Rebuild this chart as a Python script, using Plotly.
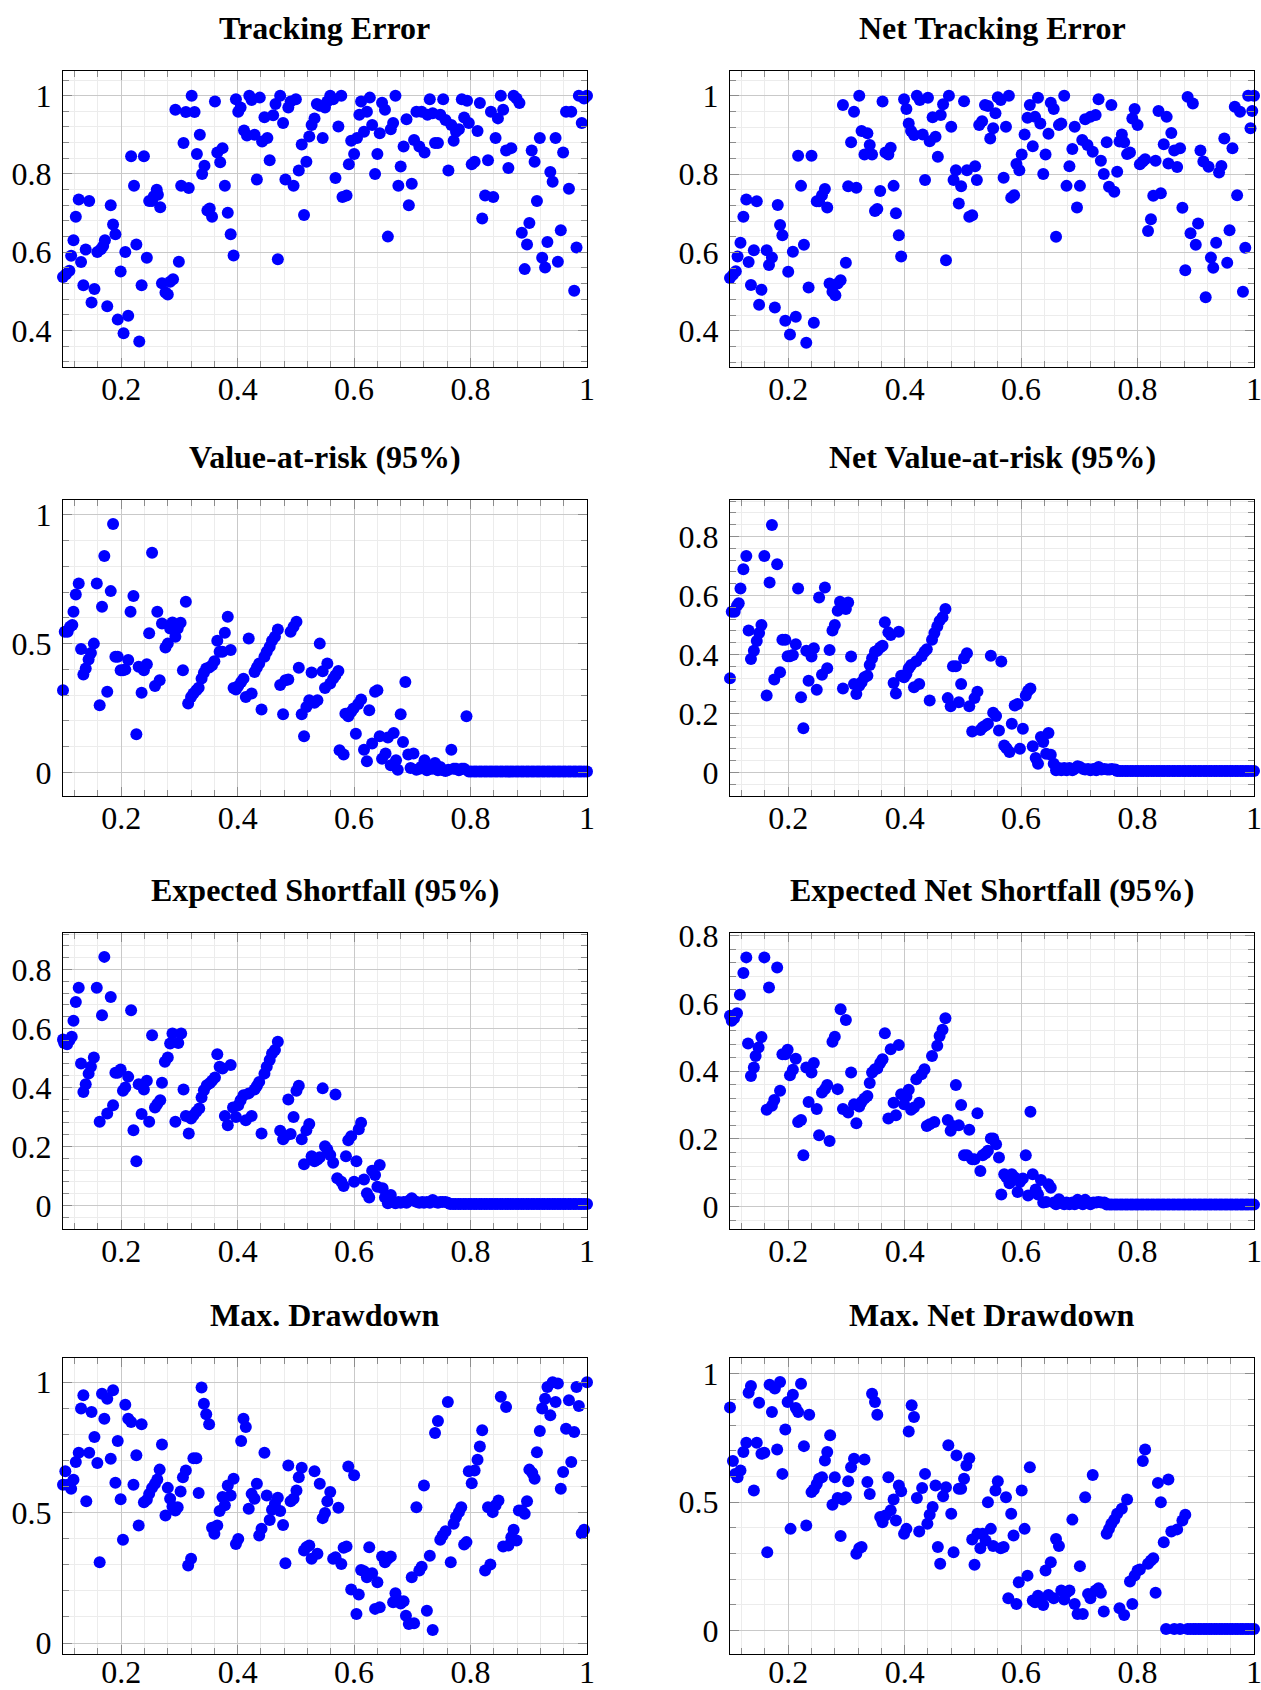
import plotly.graph_objects as go

# ---------------- data (x, y) ----------------
TRACKING_ERROR = [
(0.100,0.537),(0.105,0.544),(0.111,0.553),(0.114,0.591),(0.118,0.631),(0.122,0.691),(0.127,0.735),(0.131,0.575),(0.135,0.516),(0.139,0.607),
(0.145,0.731),(0.149,0.472),(0.154,0.506),(0.159,0.601),(0.165,0.608),(0.169,0.616),(0.172,0.631),(0.176,0.462),(0.182,0.720),(0.186,0.671),
(0.190,0.646),(0.194,0.428),(0.199,0.551),(0.204,0.393),(0.207,0.601),(0.212,0.438),(0.217,0.845),(0.222,0.770),(0.226,0.620),(0.231,0.372),
(0.235,0.516),(0.239,0.845),(0.244,0.586),(0.248,0.731),(0.253,0.731),(0.256,0.743),(0.261,0.760),(0.263,0.747),(0.267,0.715),(0.270,0.521),
(0.276,0.497),(0.280,0.492),(0.284,0.525),(0.289,0.531),(0.293,0.964),(0.299,0.576),(0.303,0.770),(0.307,0.879),(0.311,0.958),(0.316,0.764),
(0.321,1.000),(0.326,0.958),(0.330,0.851),(0.335,0.900),(0.339,0.800),(0.343,0.821),(0.348,0.707),(0.352,0.712),(0.356,0.691),(0.361,0.985),
(0.365,0.855),(0.370,0.830),(0.374,0.866),(0.378,0.770),(0.383,0.701),(0.388,0.646),(0.393,0.592),(0.397,0.991),(0.401,0.959),(0.405,0.970),
(0.411,0.911),(0.416,0.898),(0.420,1.000),(0.424,0.989),(0.429,0.900),(0.433,0.786),(0.438,0.995),(0.442,0.883),(0.446,0.945),(0.451,0.892),
(0.455,0.835),(0.461,0.950),(0.465,0.979),(0.469,0.582),(0.473,1.000),(0.478,0.930),(0.482,0.786),(0.487,0.970),(0.491,0.985),(0.496,0.770),
(0.500,0.991),(0.505,0.809),(0.510,0.875),(0.514,0.695),(0.518,0.831),(0.523,0.896),(0.527,0.925),(0.532,0.942),(0.536,0.979),(0.541,0.974),
(0.546,0.892),(0.550,0.970),(0.554,0.985),(0.559,1.000),(0.564,0.991),(0.568,0.790),(0.573,0.921),(0.578,1.000),(0.580,0.741),(0.587,0.745),
(0.591,0.825),(0.595,0.885),(0.600,0.851),(0.605,0.892),(0.609,0.951),(0.612,0.985),(0.617,0.908),(0.622,0.959),(0.627,0.995),(0.631,0.925),
(0.636,0.800),(0.640,0.851),(0.644,0.904),(0.648,0.982),(0.653,0.964),(0.658,0.640),(0.663,0.914),(0.667,0.930),(0.671,1.000),(0.676,0.770),
(0.680,0.819),(0.685,0.870),(0.690,0.940),(0.694,0.720),(0.699,0.775),(0.703,0.887),(0.707,0.959),(0.712,0.870),(0.716,0.959),(0.721,0.855),
(0.726,0.951),(0.730,0.991),(0.735,0.955),(0.739,0.879),(0.744,0.879),(0.748,0.951),(0.753,0.991),(0.757,0.938),(0.762,0.809),(0.767,0.925),
(0.771,0.885),(0.775,0.908),(0.780,0.914),(0.785,0.991),(0.789,0.944),(0.794,0.987),(0.797,0.930),(0.802,0.825),(0.807,0.831),(0.812,0.910),
(0.816,0.981),(0.820,0.686),(0.825,0.745),(0.830,0.835),(0.835,0.959),(0.839,0.741),(0.843,0.892),(0.847,0.942),(0.852,1.000),(0.856,0.964),
(0.861,0.860),(0.865,0.815),(0.870,0.866),(0.874,1.000),(0.879,0.993),(0.884,0.981),(0.888,0.650),(0.893,0.557),(0.897,0.620),(0.901,0.675),
(0.905,0.860),(0.910,0.831),(0.914,0.731),(0.919,0.892),(0.923,0.586),(0.928,0.561),(0.932,0.626),(0.937,0.805),(0.941,0.780),(0.946,0.892),
(0.950,0.576),(0.955,0.656),(0.959,0.855),(0.964,0.959),(0.969,0.762),(0.973,0.959),(0.978,0.502),(0.982,0.612),(0.986,1.000),(0.991,0.930),
(0.995,0.993),(1.000,1.000)]

NET_TRACKING_ERROR = [
(0.100,0.535),(0.105,0.543),(0.110,0.552),(0.113,0.590),(0.118,0.625),(0.123,0.691),(0.128,0.735),(0.132,0.576),(0.136,0.517),(0.141,0.606),
(0.146,0.731),(0.150,0.467),(0.154,0.505),(0.163,0.606),(0.167,0.568),(0.172,0.587),(0.177,0.460),(0.182,0.721),(0.186,0.670),(0.190,0.644),
(0.195,0.426),(0.200,0.551),(0.203,0.391),(0.208,0.602),(0.213,0.436),(0.217,0.847),(0.222,0.770),(0.227,0.620),(0.231,0.370),(0.235,0.511),
(0.240,0.847),(0.244,0.421),(0.249,0.731),(0.253,0.731),(0.258,0.746),(0.263,0.762),(0.267,0.715),(0.271,0.521),(0.276,0.500),(0.281,0.491),
(0.285,0.521),(0.290,0.529),(0.294,0.976),(0.299,0.574),(0.303,0.769),(0.308,0.881),(0.313,0.959),(0.317,0.765),(0.322,1.000),(0.326,0.910),
(0.331,0.850),(0.336,0.904),(0.340,0.874),(0.344,0.850),(0.349,0.706),(0.353,0.711),(0.358,0.757),(0.362,0.985),(0.367,0.855),(0.372,0.850),
(0.376,0.867),(0.381,0.770),(0.385,0.700),(0.390,0.644),(0.394,0.590),(0.399,0.991),(0.403,0.966),(0.407,0.929),(0.411,0.910),(0.416,0.900),
(0.421,1.000),(0.426,0.989),(0.431,0.901),(0.435,0.785),(0.440,0.995),(0.443,0.884),(0.448,0.945),(0.453,0.895),(0.457,0.844),(0.462,0.951),
(0.466,0.978),(0.471,0.580),(0.476,1.000),(0.480,0.921),(0.484,0.785),(0.488,0.810),(0.493,0.725),(0.497,0.769),(0.502,0.986),(0.507,0.810),
(0.511,0.691),(0.516,0.695),(0.521,0.820),(0.524,0.785),(0.528,0.925),(0.533,0.935),(0.538,0.976),(0.543,0.974),(0.547,0.891),(0.552,0.917),
(0.556,0.955),(0.560,0.996),(0.565,0.989),(0.570,0.791),(0.574,0.921),(0.579,1.000),(0.583,0.740),(0.588,0.746),(0.592,0.826),(0.597,0.810),
(0.601,0.850),(0.606,0.901),(0.611,0.944),(0.615,0.976),(0.620,0.871),(0.624,0.946),(0.629,0.995),(0.633,0.929),(0.638,0.800),(0.642,0.850),
(0.647,0.903),(0.651,0.982),(0.656,0.966),(0.660,0.640),(0.665,0.925),(0.669,0.929),(0.674,1.000),(0.678,0.770),(0.683,0.820),(0.688,0.864),
(0.692,0.921),(0.696,0.715),(0.701,0.770),(0.705,0.887),(0.710,0.940),(0.714,0.874),(0.719,0.946),(0.723,0.857),(0.728,0.951),(0.733,0.991),
(0.737,0.834),(0.742,0.800),(0.747,0.881),(0.751,0.768),(0.755,0.976),(0.760,0.755),(0.765,0.806),(0.769,0.883),(0.773,0.901),(0.777,0.881),
(0.782,0.851),(0.787,0.855),(0.791,0.942),(0.795,0.966),(0.800,0.925),(0.804,0.825),(0.809,0.832),(0.813,0.838),(0.818,0.655),(0.823,0.685),
(0.827,0.745),(0.831,0.834),(0.836,0.961),(0.840,0.751),(0.845,0.876),(0.850,0.946),(0.853,0.827),(0.858,0.905),(0.863,0.860),(0.868,0.818),
(0.873,0.866),(0.877,0.714),(0.882,0.555),(0.886,0.997),(0.891,0.649),(0.895,0.980),(0.900,0.620),(0.904,0.674),(0.908,0.860),(0.913,0.832),
(0.917,0.486),(0.922,0.819),(0.926,0.587),(0.930,0.561),(0.935,0.625),(0.940,0.804),(0.944,0.821),(0.949,0.891),(0.954,0.574),(0.958,0.657),
(0.963,0.866),(0.967,0.972),(0.971,0.746),(0.976,0.959),(0.981,0.500),(0.985,0.612),(0.990,1.000),(0.994,0.917),(0.997,0.961),(1.000,1.000)]

VALUE_AT_RISK = [
(0.100,0.319),(0.103,0.546),(0.108,0.546),(0.112,0.566),(0.116,0.572),(0.118,0.624),(0.122,0.691),(0.127,0.734),(0.131,0.479),(0.135,0.380),
(0.139,0.403),(0.144,0.438),(0.148,0.464),(0.153,0.500),(0.158,0.734),(0.163,0.261),(0.167,0.643),(0.171,0.840),(0.176,0.313),(0.182,0.704),
(0.186,0.965),(0.190,0.449),(0.194,0.449),(0.199,0.397),(0.203,0.397),(0.207,0.399),(0.212,0.436),(0.216,0.624),(0.221,0.685),(0.226,0.148),
(0.230,0.410),(0.235,0.309),(0.239,0.397),(0.244,0.420),(0.248,0.540),(0.253,0.853),(0.258,0.335),(0.262,0.624),(0.266,0.358),(0.270,0.578),
(0.276,0.485),(0.280,0.500),(0.284,0.559),(0.288,0.582),(0.293,0.527),(0.297,0.559),(0.302,0.581),(0.306,0.397),(0.311,0.663),(0.315,0.267),
(0.320,0.293),(0.324,0.306),(0.329,0.319),(0.333,0.329),(0.338,0.364),(0.342,0.387),(0.346,0.403),(0.351,0.407),(0.356,0.416),(0.360,0.432),
(0.365,0.511),(0.369,0.468),(0.374,0.468),(0.378,0.542),(0.383,0.604),(0.388,0.475),(0.393,0.328),(0.397,0.322),(0.401,0.335),(0.406,0.351),
(0.410,0.364),(0.414,0.293),(0.419,0.520),(0.424,0.306),(0.429,0.390),(0.433,0.407),(0.437,0.423),(0.441,0.244),(0.446,0.449),(0.450,0.468),
(0.455,0.488),(0.459,0.511),(0.464,0.527),(0.469,0.555),(0.473,0.339),(0.478,0.226),(0.482,0.358),(0.487,0.361),(0.491,0.546),(0.496,0.566),
(0.501,0.585),(0.505,0.406),(0.510,0.226),(0.514,0.140),(0.518,0.254),(0.523,0.280),(0.527,0.388),(0.532,0.270),(0.537,0.280),(0.541,0.500),
(0.546,0.393),(0.550,0.328),(0.554,0.423),(0.559,0.345),(0.564,0.364),(0.568,0.377),(0.573,0.394),(0.575,0.086),(0.582,0.069),(0.585,0.228),
(0.590,0.218),(0.595,0.235),(0.599,0.248),(0.603,0.150),(0.607,0.265),(0.612,0.283),(0.617,0.088),(0.622,0.043),(0.626,0.241),(0.631,0.112),
(0.636,0.313),(0.640,0.319),(0.644,0.140),(0.648,0.053),(0.654,0.073),(0.658,0.135),(0.663,0.027),(0.668,0.153),(0.672,0.047),(0.675,0.010),
(0.680,0.226),(0.684,0.118),(0.688,0.351),(0.693,0.069),(0.697,0.017),(0.702,0.073),(0.707,0.010),(0.712,0.014),(0.716,0.023),(0.721,0.047),
(0.725,0.008),(0.729,0.014),(0.734,0.014),(0.739,0.036),(0.744,0.008),(0.748,0.021),(0.753,0.008),(0.757,0.005),(0.762,0.010),(0.767,0.088),
(0.771,0.014),(0.775,0.014),(0.780,0.008),(0.785,0.014),(0.789,0.014),(0.793,0.218),
(0.797,0.003),(0.801,0.003),(0.806,0.003),(0.810,0.003),(0.815,0.003),(0.819,0.003),(0.824,0.003),(0.828,0.003),(0.833,0.003),(0.837,0.003),
(0.842,0.003),(0.846,0.003),(0.851,0.003),(0.855,0.003),(0.860,0.003),(0.864,0.003),(0.869,0.003),(0.873,0.003),(0.878,0.003),(0.882,0.003),
(0.887,0.003),(0.891,0.003),(0.896,0.003),(0.900,0.003),(0.905,0.003),(0.909,0.003),(0.914,0.003),(0.918,0.003),(0.923,0.003),(0.927,0.003),
(0.932,0.003),(0.936,0.003),(0.941,0.003),(0.945,0.003),(0.950,0.003),(0.954,0.003),(0.959,0.003),(0.963,0.003),(0.968,0.003),(0.972,0.003),
(0.977,0.003),(0.981,0.003),(0.986,0.003),(0.990,0.003),(0.995,0.003),(1.000,0.003)]

NET_VALUE_AT_RISK = [
(0.100,0.319),(0.103,0.545),(0.108,0.545),(0.112,0.565),(0.115,0.574),(0.118,0.624),(0.123,0.689),(0.128,0.734),(0.132,0.481),(0.136,0.385),
(0.141,0.413),(0.146,0.446),(0.150,0.473),(0.154,0.500),(0.159,0.734),(0.163,0.261),(0.168,0.644),(0.172,0.839),(0.176,0.315),(0.181,0.706),
(0.186,0.340),(0.190,0.450),(0.195,0.450),(0.199,0.394),(0.203,0.394),(0.208,0.398),(0.213,0.435),(0.217,0.624),(0.222,0.255),(0.226,0.150),
(0.231,0.413),(0.235,0.311),(0.240,0.393),(0.244,0.421),(0.249,0.280),(0.253,0.593),(0.258,0.331),(0.263,0.627),(0.267,0.353),(0.271,0.415),
(0.276,0.481),(0.280,0.500),(0.285,0.548),(0.289,0.579),(0.294,0.285),(0.299,0.554),(0.303,0.576),(0.308,0.393),(0.313,0.300),(0.317,0.266),
(0.322,0.294),(0.326,0.306),(0.331,0.323),(0.336,0.328),(0.340,0.364),(0.344,0.387),(0.349,0.409),(0.353,0.413),(0.358,0.424),(0.362,0.430),
(0.366,0.509),(0.372,0.475),(0.376,0.466),(0.381,0.303),(0.385,0.268),(0.390,0.477),(0.394,0.328),(0.399,0.323),(0.403,0.334),(0.407,0.353),
(0.411,0.364),(0.416,0.289),(0.420,0.377),(0.425,0.300),(0.429,0.394),(0.434,0.409),(0.438,0.418),(0.443,0.244),(0.447,0.450),(0.451,0.473),
(0.456,0.495),(0.460,0.514),(0.465,0.526),(0.470,0.554),(0.474,0.252),(0.479,0.224),(0.483,0.360),(0.488,0.360),(0.493,0.238),(0.497,0.300),
(0.502,0.387),(0.507,0.404),(0.511,0.224),(0.516,0.139),(0.520,0.252),(0.525,0.274),(0.530,0.144),(0.534,0.153),(0.539,0.159),(0.543,0.165),
(0.548,0.396),(0.552,0.202),(0.557,0.191),(0.562,0.142),(0.566,0.376),(0.571,0.091),(0.575,0.082),(0.580,0.069),(0.584,0.165),(0.589,0.227),
(0.594,0.232),(0.598,0.080),(0.603,0.148),(0.608,0.261),(0.612,0.277),(0.616,0.285),(0.620,0.089),(0.625,0.049),(0.629,0.029),(0.634,0.120),
(0.638,0.103),(0.643,0.063),(0.647,0.134),(0.651,0.060),(0.656,0.029),(0.660,0.007),(0.665,0.015),(0.669,0.007),(0.674,0.015),(0.678,0.007),
(0.683,0.015),(0.688,0.007),(0.692,0.012),(0.697,0.021),(0.701,0.018),(0.706,0.012),(0.710,0.010),(0.715,0.012),(0.719,0.007),(0.724,0.012),
(0.729,0.007),(0.733,0.018),(0.738,0.010),(0.743,0.012),(0.748,0.010),(0.752,0.010),(0.756,0.012),(0.762,0.010),
(0.765,0.005),(0.770,0.005),(0.774,0.005),(0.779,0.005),(0.783,0.005),(0.788,0.005),(0.792,0.005),(0.797,0.005),(0.801,0.005),(0.806,0.005),
(0.810,0.005),(0.815,0.005),(0.819,0.005),(0.824,0.005),(0.828,0.005),(0.833,0.005),(0.837,0.005),(0.842,0.005),(0.846,0.005),(0.851,0.005),
(0.855,0.005),(0.860,0.005),(0.864,0.005),(0.869,0.005),(0.873,0.005),(0.878,0.005),(0.882,0.005),(0.887,0.005),(0.891,0.005),(0.896,0.005),
(0.900,0.005),(0.905,0.005),(0.909,0.005),(0.914,0.005),(0.918,0.005),(0.923,0.005),(0.927,0.005),(0.932,0.005),(0.936,0.005),(0.941,0.005),
(0.945,0.005),(0.950,0.005),(0.954,0.005),(0.959,0.005),(0.963,0.005),(0.968,0.005),(0.972,0.005),(0.977,0.005),(0.981,0.005),(0.986,0.005),
(0.990,0.005),(0.995,0.005),(1.000,0.005)]

EXPECTED_SHORTFALL = [
(0.100,0.563),(0.102,0.551),(0.107,0.547),(0.111,0.560),(0.115,0.572),(0.118,0.626),(0.122,0.690),(0.127,0.738),(0.131,0.481),(0.135,0.385),
(0.139,0.411),(0.144,0.447),(0.148,0.470),(0.153,0.502),(0.158,0.738),(0.163,0.284),(0.167,0.645),(0.171,0.843),(0.176,0.312),(0.182,0.707),
(0.186,0.340),(0.190,0.450),(0.194,0.450),(0.199,0.461),(0.203,0.389),(0.207,0.400),(0.212,0.436),(0.217,0.662),(0.221,0.255),(0.226,0.150),
(0.230,0.411),(0.235,0.310),(0.239,0.393),(0.244,0.423),(0.248,0.284),(0.253,0.577),(0.258,0.332),(0.262,0.344),(0.267,0.357),(0.270,0.416),
(0.275,0.487),(0.280,0.502),(0.284,0.549),(0.288,0.583),(0.293,0.284),(0.298,0.551),(0.303,0.583),(0.307,0.393),(0.311,0.303),(0.316,0.244),
(0.320,0.295),(0.324,0.306),(0.329,0.318),(0.334,0.329),(0.338,0.366),(0.342,0.391),(0.347,0.408),(0.352,0.414),(0.356,0.423),(0.361,0.434),
(0.365,0.513),(0.369,0.470),(0.374,0.464),(0.378,0.303),(0.383,0.272),(0.388,0.476),(0.392,0.332),(0.397,0.300),(0.401,0.340),(0.405,0.357),
(0.410,0.374),(0.414,0.289),(0.419,0.380),(0.424,0.303),(0.429,0.393),(0.433,0.405),(0.437,0.419),(0.441,0.244),(0.446,0.447),(0.450,0.470),
(0.455,0.493),(0.459,0.515),(0.464,0.527),(0.469,0.555),(0.473,0.253),(0.478,0.224),(0.482,0.235),(0.487,0.359),(0.491,0.242),(0.496,0.300),
(0.501,0.389),(0.505,0.406),(0.510,0.224),(0.514,0.140),(0.518,0.255),(0.523,0.276),(0.527,0.167),(0.532,0.150),(0.537,0.156),(0.541,0.163),
(0.546,0.397),(0.550,0.201),(0.554,0.190),(0.559,0.171),(0.564,0.145),(0.568,0.376),(0.571,0.092),(0.578,0.080),(0.582,0.066),(0.586,0.167),
(0.590,0.221),(0.595,0.235),(0.600,0.080),(0.604,0.150),(0.608,0.258),(0.612,0.280),(0.617,0.088),(0.622,0.041),(0.626,0.027),(0.631,0.118),
(0.636,0.103),(0.640,0.063),(0.644,0.137),(0.649,0.058),(0.653,0.027),(0.658,0.007),(0.663,0.035),(0.667,0.012),(0.671,0.007),(0.676,0.012),
(0.680,0.009),(0.685,0.012),(0.690,0.009),(0.694,0.016),(0.699,0.024),(0.703,0.016),(0.707,0.012),(0.712,0.009),(0.717,0.012),(0.720,0.009),
(0.725,0.012),(0.730,0.009),(0.735,0.018),(0.739,0.012),(0.744,0.009),(0.748,0.012),(0.752,0.012),(0.757,0.012),(0.761,0.009),
(0.765,0.005),(0.770,0.005),(0.774,0.005),(0.779,0.005),(0.783,0.005),(0.788,0.005),(0.792,0.005),(0.797,0.005),(0.801,0.005),(0.806,0.005),
(0.810,0.005),(0.815,0.005),(0.819,0.005),(0.824,0.005),(0.828,0.005),(0.833,0.005),(0.837,0.005),(0.842,0.005),(0.846,0.005),(0.851,0.005),
(0.855,0.005),(0.860,0.005),(0.864,0.005),(0.869,0.005),(0.873,0.005),(0.878,0.005),(0.882,0.005),(0.887,0.005),(0.891,0.005),(0.896,0.005),
(0.900,0.005),(0.905,0.005),(0.909,0.005),(0.914,0.005),(0.918,0.005),(0.923,0.005),(0.927,0.005),(0.932,0.005),(0.936,0.005),(0.941,0.005),
(0.945,0.005),(0.950,0.005),(0.954,0.005),(0.959,0.005),(0.963,0.005),(0.968,0.005),(0.972,0.005),(0.977,0.005),(0.981,0.005),(0.986,0.005),
(0.990,0.005),(0.995,0.005),(1.000,0.005)]

EXPECTED_NET_SHORTFALL = [
(0.100,0.564),(0.103,0.549),(0.107,0.556),(0.112,0.571),(0.117,0.626),(0.123,0.690),(0.128,0.736),(0.131,0.482),(0.136,0.386),(0.141,0.411),
(0.144,0.445),(0.149,0.470),(0.154,0.501),(0.159,0.736),(0.163,0.286),(0.167,0.647),(0.172,0.298),(0.176,0.315),(0.181,0.706),(0.186,0.342),
(0.190,0.450),(0.195,0.450),(0.199,0.463),(0.203,0.388),(0.208,0.404),(0.213,0.437),(0.217,0.250),(0.222,0.256),(0.226,0.152),(0.231,0.411),
(0.235,0.309),(0.240,0.396),(0.244,0.424),(0.249,0.288),(0.253,0.211),(0.258,0.337),(0.263,0.347),(0.267,0.359),(0.271,0.194),(0.276,0.487),
(0.280,0.502),(0.285,0.347),(0.290,0.583),(0.294,0.288),(0.299,0.551),(0.303,0.278),(0.308,0.396),(0.313,0.302),(0.317,0.246),(0.322,0.296),
(0.326,0.309),(0.331,0.319),(0.336,0.327),(0.340,0.365),(0.344,0.396),(0.349,0.406),(0.353,0.408),(0.358,0.424),(0.362,0.435),(0.366,0.512),
(0.372,0.260),(0.376,0.465),(0.381,0.307),(0.385,0.270),(0.390,0.477),(0.394,0.332),(0.399,0.302),(0.403,0.325),(0.407,0.345),(0.411,0.286),
(0.416,0.293),(0.420,0.376),(0.425,0.307),(0.429,0.391),(0.434,0.406),(0.438,0.238),(0.443,0.243),(0.447,0.445),(0.451,0.250),(0.456,0.475),
(0.460,0.504),(0.465,0.522),(0.470,0.556),(0.474,0.256),(0.479,0.224),(0.483,0.238),(0.488,0.359),(0.493,0.240),(0.497,0.300),(0.502,0.152),
(0.507,0.152),(0.511,0.227),(0.516,0.140),(0.520,0.140),(0.525,0.276),(0.530,0.105),(0.534,0.152),(0.539,0.158),(0.543,0.165),(0.548,0.201),
(0.552,0.201),(0.557,0.184),(0.562,0.145),(0.566,0.036),(0.571,0.096),(0.575,0.086),(0.580,0.069),(0.584,0.096),(0.589,0.086),(0.594,0.043),
(0.598,0.073),(0.603,0.083),(0.608,0.152),(0.612,0.033),(0.616,0.280),(0.620,0.096),(0.625,0.051),(0.629,0.036),(0.634,0.079),(0.638,0.012),
(0.643,0.014),(0.647,0.066),(0.651,0.056),(0.656,0.012),(0.660,0.007),(0.665,0.022),(0.669,0.012),(0.674,0.007),(0.678,0.012),(0.683,0.007),
(0.688,0.012),(0.692,0.007),(0.697,0.020),(0.701,0.012),(0.706,0.007),(0.710,0.020),(0.715,0.012),(0.719,0.007),(0.724,0.012),(0.729,0.012),
(0.733,0.014),(0.738,0.012),(0.743,0.012),
(0.747,0.006),(0.752,0.006),(0.756,0.006),(0.761,0.006),(0.765,0.006),(0.770,0.006),(0.774,0.006),(0.779,0.006),(0.783,0.006),(0.788,0.006),
(0.792,0.006),(0.797,0.006),(0.801,0.006),(0.806,0.006),(0.810,0.006),(0.815,0.006),(0.819,0.006),(0.824,0.006),(0.828,0.006),(0.833,0.006),
(0.837,0.006),(0.842,0.006),(0.846,0.006),(0.851,0.006),(0.855,0.006),(0.860,0.006),(0.864,0.006),(0.869,0.006),(0.873,0.006),(0.878,0.006),
(0.882,0.006),(0.887,0.006),(0.891,0.006),(0.896,0.006),(0.900,0.006),(0.905,0.006),(0.909,0.006),(0.914,0.006),(0.918,0.006),(0.923,0.006),
(0.927,0.006),(0.932,0.006),(0.936,0.006),(0.941,0.006),(0.945,0.006),(0.950,0.006),(0.954,0.006),(0.959,0.006),(0.963,0.006),(0.968,0.006),
(0.972,0.006),(0.977,0.006),(0.981,0.006),(0.986,0.006),(0.990,0.006),(0.995,0.006),(1.000,0.006)]

MAX_DRAWDOWN = [
(0.100,0.607),(0.104,0.659),(0.108,0.607),(0.114,0.592),(0.118,0.626),(0.122,0.694),(0.127,0.730),(0.131,0.899),(0.135,0.950),(0.140,0.544),
(0.145,0.730),(0.149,0.886),(0.154,0.790),(0.159,0.690),(0.163,0.310),(0.167,0.956),(0.171,0.860),(0.176,0.937),(0.182,0.707),(0.186,0.969),
(0.190,0.615),(0.194,0.775),(0.199,0.551),(0.203,0.396),(0.207,0.914),(0.212,0.860),(0.217,0.848),(0.221,0.607),(0.226,0.720),(0.230,0.451),
(0.235,0.839),(0.239,0.540),(0.244,0.549),(0.248,0.572),(0.253,0.595),(0.258,0.611),(0.262,0.627),(0.266,0.665),(0.270,0.761),(0.276,0.489),
(0.280,0.595),(0.284,0.553),(0.288,0.524),(0.293,0.508),(0.297,0.521),(0.302,0.581),(0.306,0.636),(0.311,0.662),(0.315,0.297),(0.320,0.323),
(0.324,0.709),(0.329,0.709),(0.333,0.575),(0.338,0.980),(0.342,0.918),(0.346,0.877),(0.351,0.839),(0.356,0.442),(0.360,0.419),(0.365,0.451),
(0.369,0.506),(0.374,0.560),(0.378,0.528),(0.383,0.604),(0.388,0.566),(0.393,0.630),(0.397,0.380),(0.401,0.399),(0.406,0.775),(0.410,0.860),
(0.414,0.828),(0.419,0.515),(0.424,0.572),(0.429,0.553),(0.433,0.611),(0.437,0.412),(0.441,0.438),(0.446,0.730),(0.450,0.566),(0.455,0.472),
(0.459,0.511),(0.464,0.534),(0.469,0.557),(0.473,0.506),(0.478,0.453),(0.482,0.306),(0.487,0.681),(0.491,0.544),(0.496,0.553),(0.501,0.585),
(0.505,0.636),(0.510,0.672),(0.514,0.355),(0.518,0.367),(0.523,0.374),(0.527,0.323),(0.532,0.659),(0.537,0.342),(0.541,0.611),(0.546,0.479),
(0.550,0.499),(0.554,0.544),(0.559,0.579),(0.564,0.323),(0.568,0.329),(0.573,0.519),(0.578,0.303),(0.582,0.365),(0.587,0.370),(0.590,0.677),
(0.595,0.205),(0.600,0.643),(0.604,0.111),(0.608,0.186),(0.612,0.280),(0.617,0.275),(0.622,0.252),(0.626,0.367),(0.631,0.268),(0.636,0.131),
(0.640,0.233),(0.644,0.137),(0.648,0.332),(0.653,0.310),(0.658,0.323),(0.663,0.332),(0.667,0.156),(0.671,0.191),(0.676,0.163),(0.680,0.152),
(0.685,0.160),(0.689,0.105),(0.694,0.073),(0.699,0.252),(0.703,0.076),(0.707,0.521),(0.712,0.278),(0.716,0.293),(0.720,0.604),(0.725,0.124),
(0.730,0.335),(0.735,0.050),(0.739,0.805),(0.744,0.851),(0.748,0.396),(0.752,0.412),(0.757,0.429),(0.761,0.924),(0.766,0.310),(0.771,0.457),
(0.775,0.483),(0.780,0.502),(0.784,0.521),(0.789,0.378),(0.793,0.387),(0.797,0.659),(0.802,0.613),(0.807,0.662),(0.812,0.703),(0.816,0.754),
(0.820,0.816),(0.825,0.278),(0.830,0.521),(0.834,0.301),(0.838,0.502),(0.843,0.528),(0.848,0.547),(0.852,0.944),(0.856,0.370),(0.861,0.905),
(0.865,0.374),(0.870,0.406),(0.874,0.434),(0.879,0.393),(0.883,0.508),(0.888,0.508),(0.893,0.496),(0.897,0.544),(0.901,0.665),(0.906,0.652),
(0.910,0.630),(0.914,0.732),(0.919,0.813),(0.923,0.899),(0.928,0.937),(0.932,0.982),(0.937,0.873),(0.941,1.000),(0.946,0.924),(0.950,0.995),
(0.955,0.592),(0.959,0.656),(0.964,0.822),(0.969,0.931),(0.973,0.694),(0.978,0.809),(0.982,0.982),(0.986,0.909),(0.991,0.421),(0.995,0.434),
(1.000,1.000)]

MAX_NET_DRAWDOWN = [
(0.100,0.868),(0.105,0.660),(0.109,0.610),(0.113,0.597),(0.118,0.623),(0.123,0.695),(0.128,0.731),(0.132,0.926),(0.136,0.952),(0.141,0.545),
(0.146,0.731),(0.150,0.887),(0.154,0.688),(0.159,0.692),(0.164,0.305),(0.168,0.957),(0.172,0.851),(0.177,0.942),(0.181,0.705),(0.186,0.968),
(0.190,0.610),(0.195,0.783),(0.199,0.890),(0.204,0.396),(0.208,0.918),(0.213,0.866),(0.217,0.851),(0.222,0.961),(0.227,0.718),(0.231,0.409),
(0.236,0.840),(0.240,0.539),(0.244,0.549),(0.249,0.571),(0.253,0.591),(0.258,0.597),(0.263,0.662),(0.267,0.695),(0.272,0.760),(0.276,0.490),
(0.280,0.597),(0.285,0.516),(0.290,0.368),(0.294,0.510),(0.299,0.519),(0.303,0.581),(0.308,0.636),(0.313,0.669),(0.317,0.299),(0.322,0.321),
(0.326,0.325),(0.331,0.666),(0.336,0.578),(0.340,0.532),(0.344,0.922),(0.349,0.890),(0.353,0.840),(0.358,0.442),(0.362,0.422),(0.367,0.448),
(0.372,0.597),(0.376,0.468),(0.381,0.510),(0.385,0.429),(0.390,0.565),(0.394,0.542),(0.399,0.377),(0.403,0.396),(0.407,0.775),(0.412,0.877),
(0.416,0.831),(0.421,0.516),(0.425,0.386),(0.430,0.555),(0.435,0.610),(0.439,0.416),(0.443,0.451),(0.448,0.481),(0.453,0.565),(0.457,0.325),
(0.461,0.260),(0.466,0.523),(0.471,0.558),(0.475,0.721),(0.480,0.455),(0.484,0.305),(0.489,0.682),(0.493,0.552),(0.497,0.552),(0.502,0.591),
(0.506,0.643),(0.511,0.671),(0.516,0.355),(0.520,0.256),(0.525,0.377),(0.530,0.321),(0.534,0.377),(0.539,0.351),(0.543,0.500),(0.548,0.396),
(0.552,0.329),(0.556,0.545),(0.560,0.581),(0.565,0.321),(0.570,0.325),(0.574,0.519),(0.578,0.126),(0.583,0.455),(0.587,0.370),(0.592,0.104),
(0.596,0.188),(0.601,0.545),(0.606,0.396),(0.611,0.214),(0.615,0.636),(0.620,0.117),(0.624,0.110),(0.629,0.136),(0.633,0.117),(0.638,0.100),
(0.642,0.234),(0.647,0.139),(0.651,0.266),(0.656,0.126),(0.660,0.357),(0.665,0.329),(0.669,0.156),(0.674,0.121),(0.678,0.147),(0.683,0.156),
(0.688,0.432),(0.692,0.104),(0.697,0.065),(0.701,0.251),(0.706,0.065),(0.710,0.519),(0.715,0.143),(0.719,0.126),(0.723,0.606),(0.728,0.156),
(0.733,0.165),(0.737,0.147),(0.742,0.074),(0.747,0.377),(0.751,0.396),(0.755,0.416),(0.760,0.432),(0.765,0.455),(0.769,0.087),(0.773,0.474),
(0.777,0.061),(0.782,0.510),(0.787,0.191),(0.791,0.104),(0.795,0.214),(0.800,0.234),(0.804,0.238),(0.809,0.660),(0.813,0.705),(0.818,0.260),
(0.823,0.273),(0.827,0.282),(0.831,0.147),(0.835,0.575),(0.840,0.500),(0.845,0.344),(0.849,0.006),(0.853,0.588),(0.858,0.386),(0.863,0.006),
(0.868,0.394),(0.873,0.006),(0.877,0.429),(0.882,0.451),(0.886,0.006),
(0.891,0.006),(0.896,0.006),(0.900,0.006),(0.905,0.006),(0.909,0.006),(0.914,0.006),(0.918,0.006),(0.923,0.006),(0.927,0.006),(0.932,0.006),
(0.936,0.006),(0.941,0.006),(0.945,0.006),(0.950,0.006),(0.954,0.006),(0.959,0.006),(0.963,0.006),(0.968,0.006),(0.972,0.006),(0.977,0.006),
(0.981,0.006),(0.986,0.006),(0.990,0.006),(0.995,0.006),(1.000,0.006)]

TITLES = ["Tracking Error", "Net Tracking Error",
          "Value-at-risk (95%)", "Net Value-at-risk (95%)",
          "Expected Shortfall (95%)", "Expected Net Shortfall (95%)",
          "Max. Drawdown", "Max. Net Drawdown"]

X_TICKVALS = [0.2, 0.4, 0.6, 0.8, 1.0]
X_TICKTEXT = ["0.2", "0.4", "0.6", "0.8", "1"]

Y_TICKS_TE = ([0.4, 0.6, 0.8, 1.0], ["0.4", "0.6", "0.8", "1"])
Y_TICKS_HALF = ([0, 0.5, 1.0], ["0", "0.5", "1"])
Y_TICKS_FIFTH = ([0, 0.2, 0.4, 0.6, 0.8], ["0", "0.2", "0.4", "0.6", "0.8"])

# (y range, ticks, minor dtick) per panel
Y_AXES = [
    ([0.307, 1.063], Y_TICKS_TE, 0.04),
    ([0.308, 1.063], Y_TICKS_TE, 0.04),
    ([-0.092, 1.058], Y_TICKS_HALF, 0.1),
    ([-0.080, 0.924], Y_TICKS_FIFTH, 0.04),
    ([-0.080, 0.924], Y_TICKS_FIFTH, 0.04),
    ([-0.066, 0.808], Y_TICKS_FIFTH, 0.04),
    ([-0.042, 1.093], Y_TICKS_HALF, 0.1),
    ([-0.091, 1.061], Y_TICKS_HALF, 0.1),
]

PANELS = [TRACKING_ERROR, NET_TRACKING_ERROR, VALUE_AT_RISK, NET_VALUE_AT_RISK,
          EXPECTED_SHORTFALL, EXPECTED_NET_SHORTFALL, MAX_DRAWDOWN, MAX_NET_DRAWDOWN]

# ---------------- layout geometry (pixels) ----------------
W, H = 1261, 1690
COLS = [(63, 587), (730, 1254)]
ROWS = [(71, 367), (500, 796), (933, 1229), (1358, 1654)]
X_LABEL_STANDOFF = [-6, -6, -6, -10]

FONT = "Liberation Serif"
TICK_COLOR = "#8c8c8c"
MAJOR_GRID = "#c9c9c9"
MINOR_GRID = "#ececec"

fig = go.Figure()
layout = {}
annotations = []

for i, pts in enumerate(PANELS):
    r, c = divmod(i, 2)
    n = i + 1
    suffix = "" if n == 1 else str(n)
    xs = [p[0] for p in pts]
    ys = [p[1] for p in pts]
    fig.add_trace(go.Scatter(
        x=xs, y=ys, mode="markers", cliponaxis=False,
        marker=dict(color="#0000ff", size=12, line=dict(width=0)),
        xaxis="x" + suffix, yaxis="y" + suffix, showlegend=False,
        hoverinfo="x+y"))

    x0, x1 = COLS[c]
    top, bot = ROWS[r]
    yrange, (yt, ytt), ymin = Y_AXES[i]

    common = dict(
        showline=True, mirror="ticks", linecolor="black", linewidth=1,
        ticks="inside", ticklen=9, tickwidth=1, tickcolor=TICK_COLOR,
        showgrid=True, gridcolor=MAJOR_GRID, gridwidth=1,
        zeroline=False, automargin=False, ticklabeloverflow="allow",
        tickfont=dict(family=FONT, size=32, color="black"),
    )
    layout["xaxis" + suffix] = dict(
        common, domain=[x0 / W, x1 / W], anchor="y" + suffix,
        range=[0.1, 1.0], tickmode="array", tickvals=X_TICKVALS, ticktext=X_TICKTEXT,
        ticklabelstandoff=X_LABEL_STANDOFF[r],
        minor=dict(tick0=0, dtick=0.04, ticks="inside", ticklen=6, tickwidth=1,
                   tickcolor=TICK_COLOR, showgrid=True, gridcolor=MINOR_GRID, gridwidth=1),
    )
    layout["yaxis" + suffix] = dict(
        common, domain=[1 - bot / H, 1 - top / H], anchor="x" + suffix,
        range=yrange, tickmode="array", tickvals=yt, ticktext=ytt,
        ticklabelstandoff=4,
        minor=dict(tick0=0, dtick=ymin, ticks="inside", ticklen=6, tickwidth=1,
                   tickcolor=TICK_COLOR, showgrid=True, gridcolor=MINOR_GRID, gridwidth=1),
    )
    annotations.append(dict(
        text="<b>" + TITLES[i] + "</b>", xref="paper", yref="paper",
        x=(x0 + x1) / 2 / W, y=1 - top / H, xanchor="center", yanchor="bottom",
        yshift=23, showarrow=False,
        font=dict(family=FONT, size=32, color="black")))

fig.update_layout(
    width=W, height=H,
    margin=dict(l=0, r=0, t=0, b=0),
    paper_bgcolor="white", plot_bgcolor="white",
    showlegend=False, annotations=annotations, **layout)

fig.write_html("out.html")
